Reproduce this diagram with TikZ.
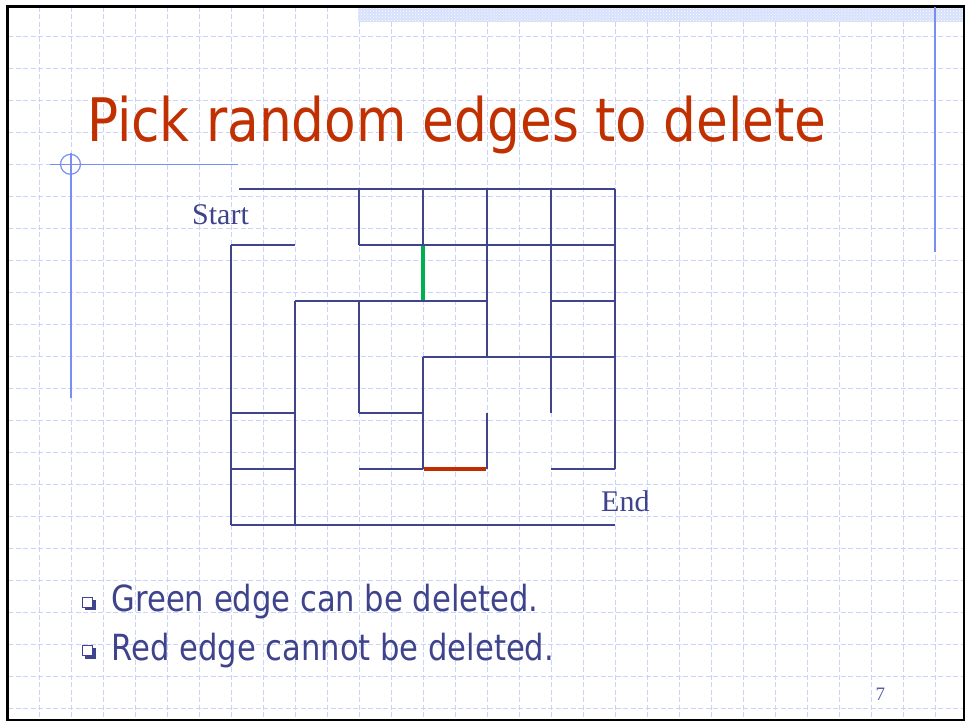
\documentclass[tikz,border=0pt]{standalone}
\usepackage{fontspec}
\setmainfont{Liberation Serif}
\newfontfamily\tahomalike{DejaVu Sans Condensed}
\usetikzlibrary{patterns}
\definecolor{gridc}{RGB}{200,212,250}
\definecolor{mazec}{RGB}{64,68,140}
\definecolor{titlec}{RGB}{192,48,0}
\definecolor{greenc}{RGB}{0,176,80}
\definecolor{redc}{RGB}{192,46,0}
\definecolor{txtc}{RGB}{63,67,140}
\definecolor{decoc}{RGB}{122,142,240}
\definecolor{bandc}{RGB}{214,224,250}
\definecolor{numc}{RGB}{90,95,160}
\tikzset{
  gridline/.style={gridc, line width=0.8bp, dash pattern=on 5bp off 2.5bp},
  wall/.style={mazec, line width=2.2bp},
  greenwall/.style={greenc, line width=4bp},
  redwall/.style={redc, line width=4bp},
  deco/.style={decoc, line width=2bp},
  thindeco/.style={decoc, line width=1.2bp},
  mazelabel/.style={inner sep=0pt, anchor=base west, text=txtc, font=\fontsize{30bp}{36bp}\selectfont},
  bullettext/.style={inner sep=0pt, anchor=base west, text=txtc, font=\tahomalike\fontsize{36bp}{43bp}\selectfont},
}
\begin{document}
\begin{tikzpicture}[x=1bp,y=-1bp]
\useasboundingbox (0,0) rectangle (967,723);
\fill[white] (0,0) rectangle (967,723);
% background grid
\foreach \k in {1,...,29} \draw[gridline] (7.3+32*\k,7) -- (7.3+32*\k,719);
\foreach \k in {1,...,22} \draw[gridline] (8,4.7+32*\k) -- (963,4.7+32*\k);
% top hatched band
\fill[bandc] (358,7.5) rectangle (963,21.7);
\fill[pattern=crosshatch dots, pattern color=white] (358,7.5) rectangle (963,21.7);
% frame
\draw[black, line width=2.2bp] (7.5,6.5) rectangle (964,720);
% decorations
\draw[deco] (935,7.5) -- (935,252);
\draw[thindeco] (50,164.3) -- (237.7,164.3);
\draw[thindeco] (70.5,164.3) circle (10);
\draw[deco] (70.5,153.5) -- (70.5,397.5);
% title
\node[inner sep=0pt, anchor=base west, text=titlec, font=\tahomalike\fontsize{60bp}{72bp}\selectfont] (title) at (87,141.7) {\scalebox{0.957}[1]{Pick random edges to delete}};
% maze
\draw[wall] (239,189) -- (615,189);
\draw[wall] (231,245) -- (295,245);
\draw[wall] (359,245) -- (615,245);
\draw[wall] (295,301) -- (487,301);
\draw[wall] (551,301) -- (615,301);
\draw[wall] (423,357) -- (615,357);
\draw[wall] (231,413) -- (295,413);
\draw[wall] (359,413) -- (423,413);
\draw[wall] (231,469) -- (295,469);
\draw[wall] (359,469) -- (423,469);
\draw[wall] (551,469) -- (615,469);
\draw[wall] (231,525) -- (615,525);
\draw[wall] (231,245) -- (231,525);
\draw[wall] (295,301) -- (295,525);
\draw[wall] (359,189) -- (359,245);
\draw[wall] (359,301) -- (359,413);
\draw[wall] (423,189) -- (423,245);
\draw[wall] (423,357) -- (423,469);
\draw[wall] (487,189) -- (487,357);
\draw[wall] (487,413) -- (487,469);
\draw[wall] (551,189) -- (551,413);
\draw[wall] (615,189) -- (615,469);
\draw[greenwall] (423,246) -- (423,300);
\draw[redwall] (424,468.7) -- (486,468.7);
% labels
\node[mazelabel] (start) at (192,224) {Start};
\node[mazelabel] (end) at (601,511.7) {End};
% bullets
\foreach \y/\n in {603/b1, 651.5/b2} {
  \fill[mazec] (85,\y-3.5) rectangle (95.5,\y+7);
  \filldraw[fill=white, draw=mazec, line width=1bp] (82.5,\y-6) rectangle (92.5,\y+4);
}
\node[bullettext] (g) at (111.5,611.7) {\scalebox{0.945}[1]{Green edge can be deleted.}};
\node[bullettext] (r) at (111.5,660) {\scalebox{0.945}[1]{Red edge cannot be deleted.}};
% page number
\node[inner sep=0pt, anchor=base west, text=numc, font=\fontsize{19bp}{22bp}\selectfont] (num) at (875.5,700) {7};
\end{tikzpicture}
\end{document}
